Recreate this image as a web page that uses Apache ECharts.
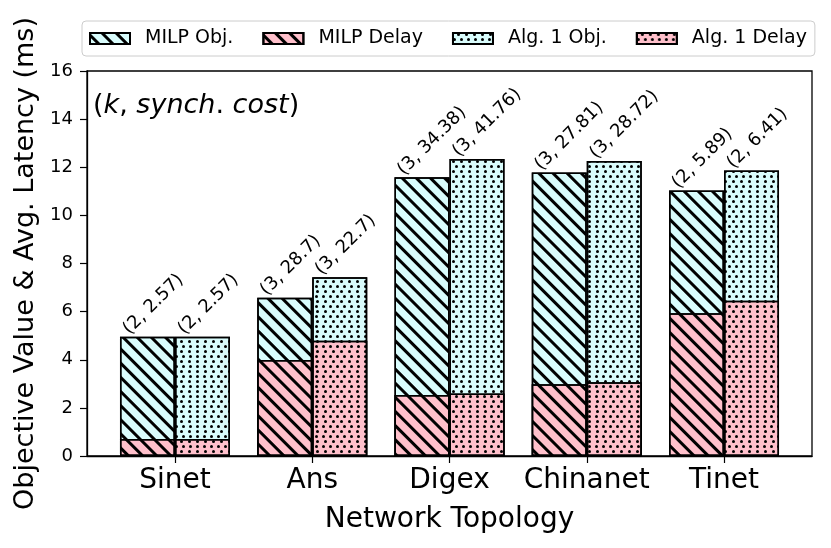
<!DOCTYPE html>
<html>
<head>
<meta charset="utf-8">
<script src="https://cdn.jsdelivr.net/npm/echarts@6/dist/echarts.min.js"></script>
<style>
  html, body { margin: 0; padding: 0; background: #fff; }
  #chart { width: 831px; height: 548px; }
</style>
</head>
<body>
<div id="chart"></div>
<script>
// values
var topologies = ['Sinet', 'Ans', 'Digex', 'Chinanet', 'Tinet'];
var milpObj = [4.96, 6.58, 11.58, 11.78, 11.03];
var milpDelay = [0.71, 3.99, 2.53, 2.98, 5.93];
var algObj = [4.96, 7.43, 12.34, 12.26, 11.86];
var algDelay = [0.71, 4.79, 2.60, 3.07, 6.45];
var milpTags = ['(2, 2.57)', '(3, 28.7)', '(3, 34.38)', '(3, 27.81)', '(2, 5.89)'];
var algTags = ['(2, 2.57)', '(3, 22.7)', '(3, 41.76)', '(3, 28.72)', '(2, 6.41)'];

var FONT = 'DejaVu Sans';
var CYAN = '#d9fcfc';
var PINK = '#ffc0cb';
var XMIN = -0.641, XMAX = 4.641;

var hatch = {
  symbol: 'rect',
  symbolSize: 1,
  color: '#000',
  dashArrayX: [1, 0],
  dashArrayY: [2.1, 6.2],
  rotation: Math.PI / 4
};
var dots = {
  symbol: 'circle',
  symbolSize: 1,
  color: '#000',
  dashArrayX: [[2.6, 4.0], [0, 3.3, 2.6, 0.7]],
  dashArrayY: [2.6, 1.7],
  rotation: 0
};

function pairs(vals) {
  return vals.map(function (v, i) { return [i, v]; });
}
function tagLabel(tags) {
  return {
    show: true,
    position: 'top',
    distance: 5,
    rotate: 45,
    align: 'left',
    verticalAlign: 'bottom',
    offset: [-15, -6],
    color: '#000',
    fontFamily: FONT,
    fontSize: 18,
    formatter: function (p) { return tags[p.dataIndex]; }
  };
}
function barStyle(color, decal) {
  return { color: color, borderColor: '#000', borderWidth: 1.5, decal: decal };
}
function hiddenX() {
  return {
    type: 'value', min: XMIN, max: XMAX, show: false,
    axisLine: { show: false }, splitLine: { show: false }
  };
}

var ec = echarts.init(document.getElementById('chart'));
ec.setOption({
  animation: false,
  textStyle: { fontFamily: FONT },
  title: {
    left: 93,
    top: 92,
    padding: 0,
    text: '({i|k}, {i|synch}. {i|cost})',
    textStyle: {
      fontFamily: FONT,
      fontSize: 27,
      fontWeight: 'normal',
      color: '#000',
      rich: {
        i: { fontFamily: FONT, fontSize: 27, fontStyle: 'italic', color: '#000' }
      }
    }
  },
  legend: {
    left: 82,
    top: 21,
    padding: [8, 8, 8, 7],
    itemGap: 29,
    itemWidth: 40,
    itemHeight: 11,
    icon: 'rect',
    borderColor: '#cccccc',
    borderWidth: 1,
    borderRadius: 4,
    data: ['MILP Obj.', 'MILP Delay', 'Alg. 1 Obj.', 'Alg. 1 Delay'],
    textStyle: { fontFamily: FONT, fontSize: 19, color: '#000', padding: [0, 0, 0, 10] }
  },
  grid: {
    left: 87,
    right: 19,
    top: 71,
    bottom: 92,
    show: true,
    borderColor: '#000',
    borderWidth: 1.3
  },
  xAxis: [{
    type: 'value',
    min: XMIN,
    max: XMAX,
    name: 'Network Topology',
    nameLocation: 'middle',
    nameGap: 50,
    nameTextStyle: { fontFamily: FONT, fontSize: 28, color: '#000' },
    axisLine: { show: true, onZero: false, lineStyle: { color: '#000', width: 1.3 } },
    axisTick: { show: true, length: 7, lineStyle: { color: '#000', width: 1.2 }, customValues: [0, 1, 2, 3, 4] },
    axisLabel: {
      customValues: [0, 1, 2, 3, 4],
      margin: 11,
      fontFamily: FONT,
      fontSize: 28,
      color: '#000',
      formatter: function (v) { return topologies[Math.round(v)]; }
    },
    splitLine: { show: false }
  }, hiddenX()],
  yAxis: {
    type: 'value',
    min: 0,
    max: 16,
    interval: 2,
    name: 'Objective Value & Avg. Latency (ms)',
    nameLocation: 'middle',
    nameGap: 47,
    nameTextStyle: { fontFamily: FONT, fontSize: 27, color: '#000' },
    axisLine: { show: true, onZero: false, lineStyle: { color: '#000', width: 1.3 } },
    axisTick: { show: true, length: 7, lineStyle: { color: '#000', width: 1.2 } },
    axisLabel: { margin: 14, fontFamily: FONT, fontSize: 18, color: '#000' },
    splitLine: { show: false }
  },
  series: [{
    // objective totals, MILP left / Alg. 1 right
    name: 'MILP Obj.',
    type: 'bar',
    xAxisIndex: 0,
    barWidth: 55,
    barGap: '0%',
    itemStyle: barStyle(CYAN, hatch),
    label: tagLabel(milpTags),
    data: pairs(milpObj)
  }, {
    name: 'Alg. 1 Obj.',
    type: 'bar',
    xAxisIndex: 0,
    barWidth: 55,
    barGap: '0%',
    itemStyle: barStyle(CYAN, dots),
    label: tagLabel(algTags),
    data: pairs(algObj)
  }, {
    // delays drawn over the lower part of the same bars
    name: 'MILP Delay',
    type: 'bar',
    xAxisIndex: 1,
    barWidth: 55,
    barGap: '0%',
    itemStyle: barStyle(PINK, hatch),
    data: pairs(milpDelay)
  }, {
    name: 'Alg. 1 Delay',
    type: 'bar',
    xAxisIndex: 1,
    barWidth: 55,
    barGap: '0%',
    itemStyle: barStyle(PINK, dots),
    data: pairs(algDelay)
  }]
});
</script>
</body>
</html>
